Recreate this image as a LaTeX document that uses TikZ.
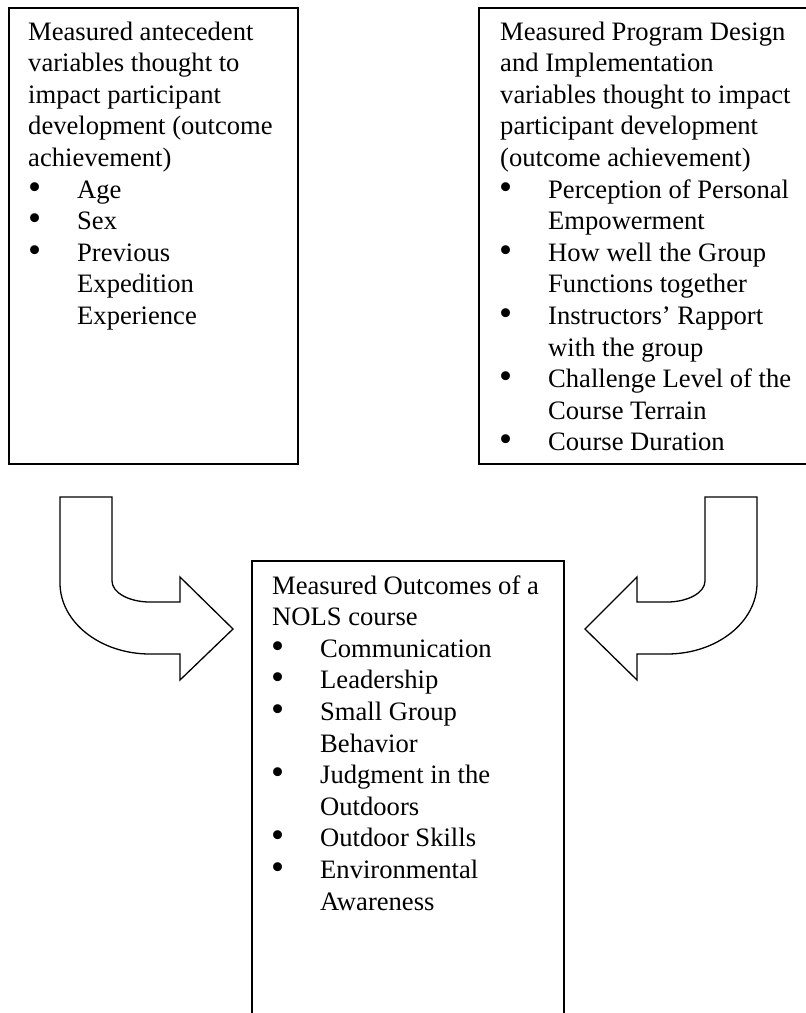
\documentclass[tikz,border=0pt]{standalone}
\usepackage{fontspec}
\usepackage{graphicx}
\setmainfont{Liberation Serif}
\newcommand{\bulitem}{\makebox[49pt][l]{\raisebox{-1pt}{\scalebox{1.4}{•}}}}
\begin{document}
\begin{tikzpicture}[x=1pt,y=1pt,
  box/.style={draw=black,line width=2pt,minimum width=#1,inner sep=0pt,anchor=north west},
  txt/.style={inner sep=0pt,anchor=base west,font=\fontsize{26.6}{31.6}\selectfont},
  bigarrow/.style={draw=black,line width=1.3pt,fill=white,line join=miter}]
\useasboundingbox (0,0) rectangle (806,-1013);
\clip (0,0) rectangle (806,-1013);
% boxes
\node[box=289pt,minimum height=456pt] (ante) at (8,-7) {};
\node[box=340pt,minimum height=456pt] (prog) at (478,-7) {};
\node[box=312pt,minimum height=500pt] (outc) at (251,-560) {};
% left box text
\foreach \t [count=\k from 0] in {Measured antecedent,variables thought to,impact participant,development (outcome,achievement)}
  \node[txt] (a\k) at (28,-40-31.6*\k) {\t};
\foreach \t [count=\k from 5] in {Age,Sex,Previous}
  \node[txt] (a\k) at (28,-40-31.6*\k) {\bulitem\t};
\foreach \t [count=\k from 8] in {Expedition,Experience}
  \node[txt] (a\k) at (77,-40-31.6*\k) {\t};
% right box text
\foreach \t [count=\k from 0] in {Measured Program Design,and Implementation,variables thought to impact,participant development,(outcome achievement)}
  \node[txt] (p\k) at (500,-40-31.6*\k) {\t};
\foreach \t/\k in {Perception of Personal/5,How well the Group/7,Instructors’ Rapport/9,Challenge Level of the/11,Course Duration/13}
  \node[txt] (p\k) at (499,-40-31.6*\k) {\bulitem\t};
\foreach \t/\k in {Empowerment/6,Functions together/8,with the group/10,Course Terrain/12}
  \node[txt] (p\k) at (548,-40-31.6*\k) {\t};
% bottom box text
\foreach \t [count=\k from 0] in {Measured Outcomes of a,NOLS course}
  \node[txt] (o\k) at (272,-594-31.6*\k) {\t};
\foreach \t/\k in {Communication/2,Leadership/3,Small Group/4,Judgment in the/6,Outdoor Skills/8,Environmental/9}
  \node[txt] (o\k) at (271,-594-31.6*\k) {\bulitem\t};
\foreach \t/\k in {Behavior/5,Outdoors/7,Awareness/10}
  \node[txt] (o\k) at (320,-594-31.6*\k) {\t};
% block arrows
\draw[bigarrow] (60,-497) -- (112,-497) -- (112,-581)
  arc[start angle=180,end angle=270,x radius=38pt,y radius=21pt]
  -- (180,-602) -- (180,-577) -- (233,-629) -- (180,-680) -- (180,-654) -- (150,-654)
  arc[start angle=270,end angle=180,x radius=90pt,y radius=71pt] -- cycle;
\draw[bigarrow] (757,-497) -- (705,-497) -- (705,-581)
  arc[start angle=0,end angle=-90,x radius=38pt,y radius=21pt]
  -- (637,-602) -- (637,-577) -- (585,-629) -- (637,-680) -- (637,-654) -- (667,-654)
  arc[start angle=270,end angle=360,x radius=90pt,y radius=71pt] -- cycle;
\end{tikzpicture}
\end{document}
